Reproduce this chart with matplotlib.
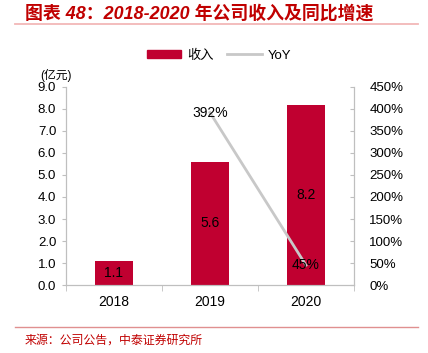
import numpy as np
import matplotlib.pyplot as plt
from matplotlib.patches import Patch
from matplotlib.lines import Line2D

plt.rcParams['font.family'] = ['Liberation Sans', 'Noto Sans CJK SC', 'DejaVu Sans']

years = ['2018', '2019', '2020']
revenue = [1.1, 5.6, 8.2]
yoy_years = ['2019', '2020']
yoy = [392, 45]

bar_color = '#C00030'
line_color = '#C8C8C8'
spine_color = '#BFBFBF'
red = '#C00000'

fig = plt.figure(figsize=(4.28, 3.53), dpi=100)
ax = fig.add_axes([0.154, 0.1926, 0.673, 0.561])

x = np.arange(len(years))
ax.bar(x, revenue, width=0.39, color=bar_color, zorder=2)
for xi, v in zip(x, revenue):
    ax.text(xi, v / 2, f'{v:.1f}', ha='center', va='center', fontsize=10)
ax.set_xlim(-0.5, 2.5)
ax.set_ylim(0, 9)
ax.set_yticks(np.arange(0, 9.1, 1))
ax.set_yticklabels([f'{v:.1f}' for v in np.arange(0, 9.1, 1)])
ax.set_xticks(x)
ax.set_xticklabels(years, fontsize=10)
ax.set_xticks([-0.5, 0.5, 1.5, 2.5], minor=True)
ax.tick_params(axis='x', which='major', length=0, pad=7)
ax.tick_params(axis='x', which='minor', length=4, color=spine_color)
ax.tick_params(axis='y', length=3, color=spine_color, pad=4, labelsize=9.5)
ax.spines['top'].set_visible(False)
for s in ['left', 'right', 'bottom']:
    ax.spines[s].set_color(spine_color)

ax2 = ax.twinx()
xi_yoy = [years.index(y) for y in yoy_years]
ax2.plot(xi_yoy, yoy, color=line_color, linewidth=2, zorder=3)
for xi, v in zip(xi_yoy, yoy):
    ax2.text(xi, v, f'{v}%', ha='center', va='center', fontsize=10)
ax2.set_ylim(0, 450)
ax2.set_yticks(np.arange(0, 451, 50))
ax2.set_yticklabels([f'{v}%' for v in np.arange(0, 451, 50)])
ax2.tick_params(axis='y', length=3, direction='in', color=spine_color, labelsize=9.5, pad=11)
ax2.spines['top'].set_visible(False)
for s in ['left', 'right', 'bottom']:
    ax2.spines[s].set_color(spine_color)

handles = [Patch(color=bar_color), Line2D([0], [0], color=line_color, lw=2)]
fig.legend(handles, ['收入', 'YoY'], loc='center', bbox_to_anchor=(0.512, 0.842),
           ncol=2, frameon=False, fontsize=9.5, handlelength=2.6, handleheight=0.6,
           columnspacing=1.0, handletextpad=0.5)

fig.text(0.095, 0.785, '(亿元)', fontsize=8.5, ha='left', va='center')
fig.text(0.058, 0.962, '图表 48：2018-2020 年公司收入及同比增速', fontsize=12.9,
         fontweight='bold', style='italic', color=red, ha='left', va='center')
fig.add_artist(Line2D([0.035, 0.977], [0.931, 0.931], color='#F2B8B8', lw=1.3))
fig.add_artist(Line2D([0.035, 0.977], [0.074, 0.074], color='#E09090', lw=1))
fig.text(0.058, 0.035, '来源：公司公告，中泰证券研究所', fontsize=8.6, color=red, ha='left', va='center')

fig.savefig('out.png', dpi=100)
